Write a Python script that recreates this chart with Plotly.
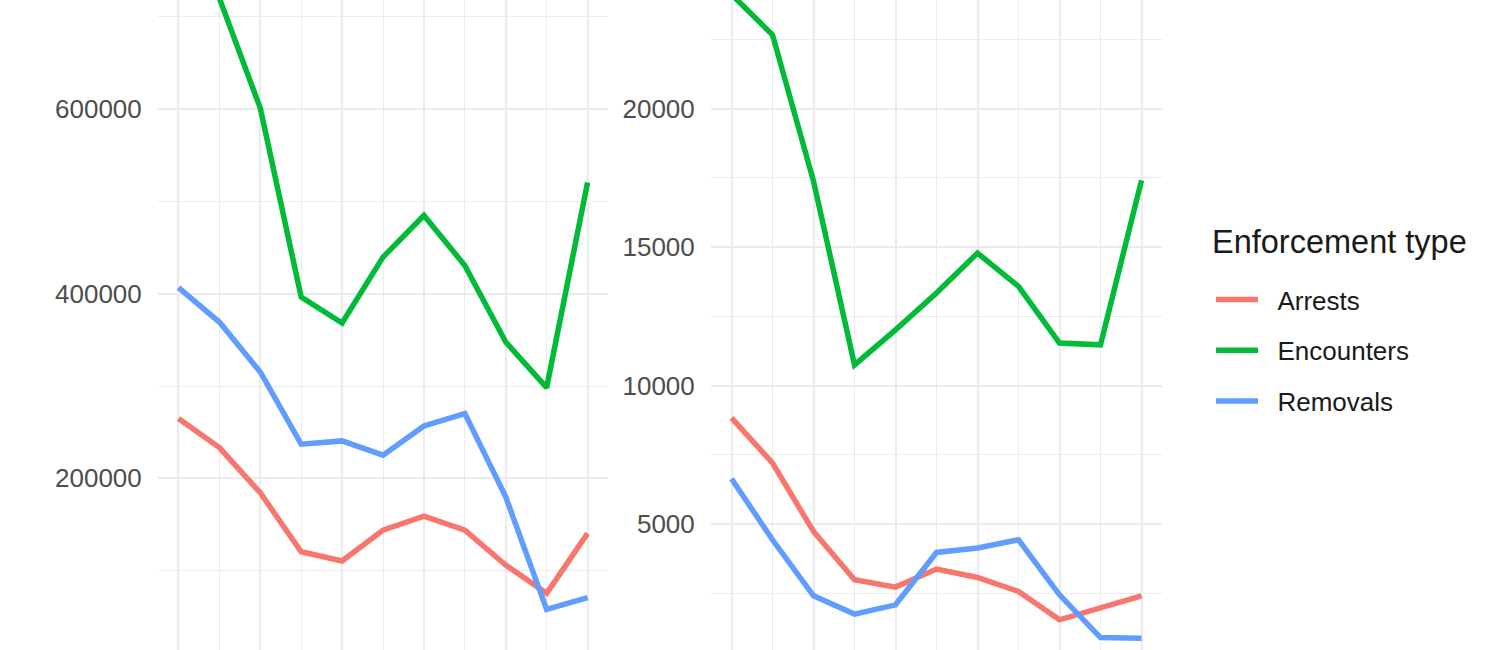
import plotly.graph_objects as go

years = [2014, 2015, 2016, 2017, 2018, 2019, 2020, 2021, 2022, 2023, 2024]
series_names = ["Arrests", "Encounters", "Removals"]
colors = {"Arrests": "#F8766D", "Encounters": "#00BA38", "Removals": "#619CFF"}
legend_title = "Enforcement type"

# Left panel values
left_arrests = [264800, 233400, 184400, 120500, 110500, 144000, 159100, 144000, 106200, 75500, 140400]
left_encounters = [775000, 720000, 601000, 396300, 368200, 439600, 484700, 430600, 347700, 298300, 520400]
left_removals = [406500, 369300, 315200, 237000, 240600, 225100, 256800, 270200, 180000, 58200, 70800]

# Right panel values
right_arrests = [8830, 7204, 4733, 2988, 2724, 3374, 3071, 2565, 1542, 1965, 2410]
right_encounters = [24120, 22660, 17380, 10748, 12012, 13338, 14783, 13577, 11532, 11470, 17407]
right_removals = [6637, 4433, 2410, 1748, 2084, 3974, 4133, 4433, 2446, 903, 881]

left = {"Arrests": left_arrests, "Encounters": left_encounters, "Removals": left_removals}
right = {"Arrests": right_arrests, "Encounters": right_encounters, "Removals": right_removals}

FONT = "Liberation Sans, Arial, sans-serif"
NB = "\u00a0\u00a0"

fig = go.Figure()
for name in series_names:
    fig.add_trace(go.Scatter(x=years, y=left[name], mode="lines", name=NB + name,
                             line=dict(color=colors[name], width=5.5),
                             xaxis="x", yaxis="y", legendgroup=name, showlegend=True))
for name in series_names:
    fig.add_trace(go.Scatter(x=years, y=right[name], mode="lines", name=NB + name,
                             line=dict(color=colors[name], width=5.5),
                             xaxis="x2", yaxis="y2", legendgroup=name, showlegend=False))

W, H = 1500, 650
grid = "#EBEBEB"
tickfont = dict(family=FONT, size=26, color="#4D4D4D")

def xax(domain):
    return dict(domain=domain, range=[2013.5, 2024.5], tick0=2014, dtick=2,
                showgrid=True, gridcolor=grid, gridwidth=2, zeroline=False,
                showline=False, showticklabels=False, ticks="",
                minor=dict(dtick=1, tick0=2014, showgrid=True, gridcolor=grid, gridwidth=1.2))

def yax(rng, dtick, anchor):
    return dict(range=rng, tick0=0, dtick=dtick, anchor=anchor, domain=[0, 1],
                showgrid=True, gridcolor=grid, gridwidth=2, zeroline=False,
                showline=False, ticks="outside", ticklen=10, tickcolor="rgba(0,0,0,0)",
                tickfont=tickfont, tickformat="d",
                minor=dict(dtick=dtick / 2, tick0=0, showgrid=True, gridcolor=grid, gridwidth=1.2))

fig.update_layout(
    width=W, height=H,
    margin=dict(l=0, r=0, t=0, b=0),
    paper_bgcolor="white", plot_bgcolor="white",
    xaxis=xax([158 / W, 608 / W]),
    xaxis2=xax([711 / W, 1162 / W]),
    yaxis=yax([14150, 718040], 200000, "x"),
    yaxis2=yax([453, 23919], 5000, "x2"),
    showlegend=True,
    legend=dict(
        x=1211 / W, y=1 - 276 / H, xanchor="left", yanchor="top",
        font=dict(family=FONT, size=26, color="#1A1A1A"),
        tracegroupgap=14, traceorder="grouped", itemwidth=42,
        bgcolor="rgba(0,0,0,0)",
    ),
    annotations=[dict(text=legend_title, xref="paper", yref="paper",
                      x=1210 / W, y=1 - 242 / H, xanchor="left", yanchor="middle",
                      showarrow=False, font=dict(family=FONT, size=32.5, color="#1A1A1A"))],
)

fig.write_html("out.html", config={"displayModeBar": False},
               post_script="document.body.style.margin='0px';document.body.style.overflow='hidden';")
